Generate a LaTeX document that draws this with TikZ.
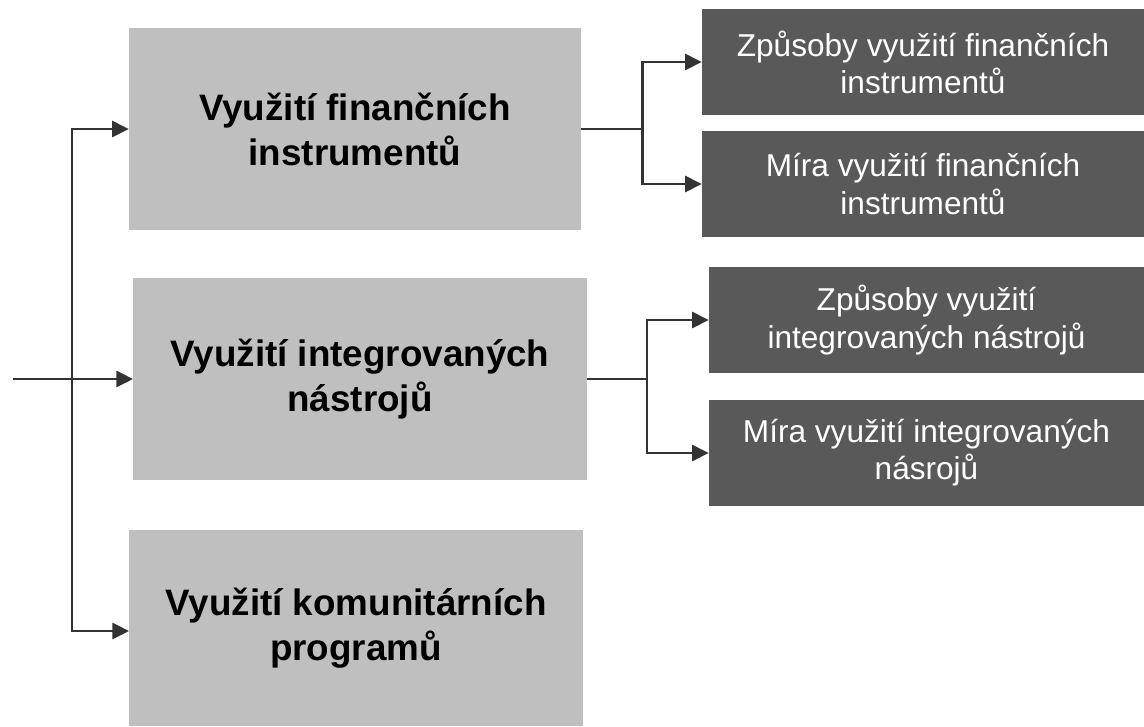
\documentclass[tikz,border=0pt]{standalone}
\usepackage{fontspec}
\setmainfont{Liberation Sans}
\usetikzlibrary{arrows.meta,positioning,calc}
\definecolor{lightbox}{HTML}{BFBFBF}
\definecolor{darkbox}{HTML}{595959}
\definecolor{conn}{HTML}{333333}

\begin{document}
\begin{tikzpicture}[
  x=0.75pt, y=-0.75pt,
  gbox/.style={fill=lightbox,minimum width=340pt,minimum height=151.5pt,align=center,text=black,
    font=\fontsize{27.6}{33.7}\selectfont\bfseries,inner sep=0pt},
  dbox/.style={fill=darkbox,minimum width=331.5pt,minimum height=79.5pt,align=center,text=white,
    font=\fontsize{23.7}{27.8}\selectfont,inner sep=0pt},
  arr/.style={-{Triangle[length=12.5pt,width=12pt]},line width=2.1pt,draw=conn}
]
\useasboundingbox (0,0) rectangle (1144,726);

% main boxes
\node[gbox,minimum width=339pt] (fin) at (355,129) {Využití finančních\\instrumentů};
\node[gbox] (int) at (360,379) {Využití integrovaných\\nástrojů};
\node[gbox,minimum height=147pt] (kom) at (356,628) {Využití komunitárních\\programů};

% detail boxes
\node[dbox] (zpfin) at (923,62) {Způsoby využití finančních\\instrumentů};
\node[dbox] (mrfin) at (923,184) {Míra využití finančních\\instrumentů};
\node[dbox,minimum width=326.25pt] (zpint) at (926.5,320) {Způsoby využití\\integrovaných nástrojů};
\node[dbox,minimum width=326.25pt] (mrint) at (926.5,453) {Míra využití integrovaných\\násrojů};

\coordinate (start) at (13,379);
\coordinate (split) at (72,379);

\draw[arr] (start) -- (int.west);
\draw[arr] (split) |- (fin.west);
\draw[arr] (split) |- ($(kom.west)+(0,3)$);

\draw[arr] (fin.east) -- ++(61,0) |- (zpfin.west);
\draw[arr] (fin.east) -- ++(61,0) |- (mrfin.west);
\draw[arr] (int.east) -- ++(60,0) |- (zpint.west);
\draw[arr] (int.east) -- ++(60,0) |- (mrint.west);
\end{tikzpicture}
\end{document}
